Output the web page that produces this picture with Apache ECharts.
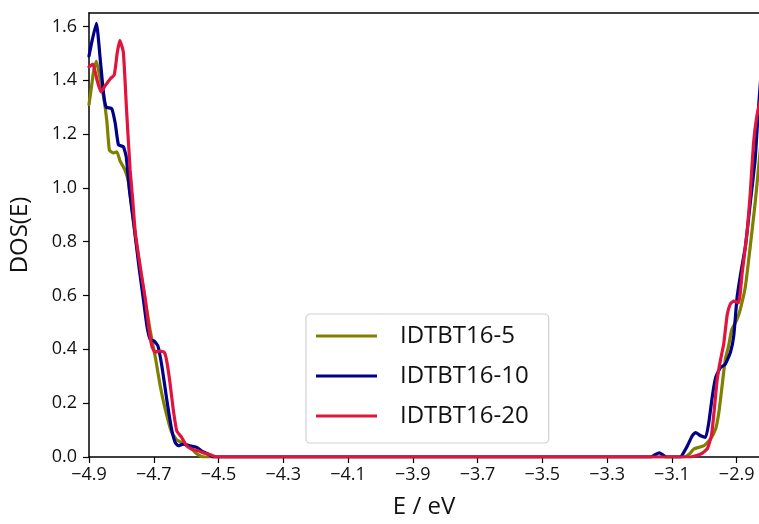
<!DOCTYPE html>
<html>
<head>
<meta charset="utf-8">
<script src="https://cdn.jsdelivr.net/npm/echarts@6/dist/echarts.min.js"></script>
<style>
html,body{margin:0;padding:0;background:#fff;}
#chart{width:759px;height:524px;}
</style>
</head>
<body>
<div id="chart"></div>
<script>
// ---- data ----
const seriesNames = ['IDTBT16-5', 'IDTBT16-10', 'IDTBT16-20'];
const xTicks = [-4.9, -4.7, -4.5, -4.3, -4.1, -3.9, -3.7, -3.5, -3.3, -3.1, -2.9];
const yTicks = [0.0, 0.2, 0.4, 0.6, 0.8, 1.0, 1.2, 1.4, 1.6];

const energy5 = [-4.900,-4.893,-4.885,-4.877,-4.868,-4.855,-4.845,-4.837,-4.824,-4.814,-4.804,-4.789,-4.778,-4.765,-4.757,-4.742,-4.726,-4.711,-4.700,-4.694,-4.680,-4.665,-4.645,-4.630,-4.614,-4.594,-4.573,-4.555,-4.540,-3.062,-3.045,-3.032,-3.001,-2.981,-2.965,-2.955,-2.945,-2.935,-2.925,-2.915,-2.899,-2.889,-2.873,-2.858,-2.843,-2.833,-2.823];
const dos5 =    [1.31,1.37,1.44,1.47,1.42,1.34,1.25,1.14,1.13,1.134,1.10,1.067,1.02,0.90,0.82,0.70,0.58,0.47,0.40,0.363,0.264,0.18,0.092,0.065,0.054,0.042,0.018,0.003,0,0,0.012,0.03,0.042,0.067,0.104,0.165,0.264,0.363,0.412,0.474,0.511,0.548,0.634,0.783,0.943,1.067,1.19];

const energy10 = [-4.900,-4.890,-4.877,-4.865,-4.855,-4.847,-4.830,-4.819,-4.809,-4.794,-4.785,-4.775,-4.760,-4.745,-4.732,-4.721,-4.711,-4.698,-4.687,-4.675,-4.660,-4.645,-4.634,-4.624,-4.609,-4.589,-4.568,-4.553,-4.532,-4.515,-3.164,-3.150,-3.139,-3.128,-3.118,-3.073,-3.062,-3.052,-3.037,-3.027,-3.011,-2.996,-2.986,-2.975,-2.965,-2.950,-2.935,-2.919,-2.909,-2.899,-2.889,-2.873,-2.858,-2.843,-2.833,-2.823];
const dos10 =    [1.49,1.55,1.612,1.474,1.35,1.30,1.295,1.24,1.16,1.153,1.116,0.99,0.85,0.70,0.585,0.486,0.437,0.43,0.412,0.338,0.215,0.104,0.054,0.042,0.048,0.042,0.036,0.023,0.011,0,0,0.01,0.015,0.008,0,0,0.02,0.042,0.079,0.091,0.079,0.073,0.128,0.227,0.295,0.332,0.345,0.39,0.45,0.59,0.671,0.783,0.943,1.104,1.29,1.45];

const energy20 = [-4.900,-4.888,-4.875,-4.863,-4.850,-4.834,-4.822,-4.813,-4.805,-4.794,-4.784,-4.773,-4.765,-4.757,-4.742,-4.726,-4.716,-4.706,-4.696,-4.680,-4.667,-4.660,-4.650,-4.640,-4.629,-4.614,-4.599,-4.583,-4.563,-4.543,-4.522,-4.505,-3.042,-3.011,-2.991,-2.978,-2.970,-2.960,-2.950,-2.940,-2.929,-2.919,-2.909,-2.894,-2.883,-2.868,-2.858,-2.848,-2.838,-2.827,-2.817];
const dos20 =    [1.45,1.46,1.40,1.357,1.38,1.406,1.42,1.50,1.548,1.505,1.289,1.067,0.956,0.833,0.709,0.585,0.486,0.412,0.39,0.394,0.388,0.357,0.277,0.178,0.097,0.073,0.042,0.03,0.023,0.014,0.007,0,0,0.011,0.03,0.079,0.165,0.289,0.36,0.42,0.53,0.57,0.579,0.573,0.684,0.832,0.98,1.165,1.264,1.326,1.40];

const colors = ['#808000', '#00008b', '#e0143c'];
// ---- chart ----
function zip(a, b) { return a.map((v, i) => [v, b[i]]); }
const seriesData = [zip(energy5, dos5), zip(energy10, dos10), zip(energy20, dos20)];
const fmt = v => v.toFixed(1).replace('-', '\u2212');
const FONT = 'Open Sans';

const chart = echarts.init(document.getElementById('chart'), null, {renderer: 'canvas'});
chart.setOption({
  animation: false,
  backgroundColor: '#ffffff',
  grid: {left: 83, top: 13, right: 0, bottom: 66, containLabel: false},
  xAxis: [{
    type: 'value', min: -4.9, max: -2.831,
    name: 'E / eV', nameLocation: 'middle', nameGap: 38,
    nameTextStyle: {fontFamily: FONT, fontSize: 24, color: '#111'},
    axisLine: {show: true, lineStyle: {color: '#000', width: 1.5}},
    axisTick: {show: true, length: 6, lineStyle: {color: '#000', width: 1.2}, customValues: xTicks},
    axisLabel: {fontFamily: FONT, fontSize: 18, color: '#111', margin: 9, customValues: xTicks, formatter: fmt},
    splitLine: {show: false}
  }, {
    type: 'value', position: 'top', min: -4.9, max: -2.831,
    axisLine: {show: true, onZero: false, lineStyle: {color: '#000', width: 1.5}},
    axisTick: {show: false}, axisLabel: {show: false}, splitLine: {show: false}
  }],
  yAxis: {
    type: 'value', min: 0, max: 1.65,
    name: 'DOS(E)', nameLocation: 'middle', nameGap: 57, nameRotate: 90,
    nameTextStyle: {fontFamily: FONT, fontSize: 24, color: '#111'},
    axisLine: {show: true, lineStyle: {color: '#000', width: 1.5}},
    axisTick: {show: true, length: 6, lineStyle: {color: '#000', width: 1.2}, customValues: yTicks},
    axisLabel: {fontFamily: FONT, fontSize: 18, color: '#111', margin: 12, customValues: yTicks, formatter: fmt},
    splitLine: {show: false}
  },
  legend: {
    orient: 'vertical', left: 306, top: 314,
    data: seriesNames.map(n => ({name: n, icon: 'rect'})),
    itemWidth: 61, itemHeight: 3, itemGap: 10,
    padding: [7, 20, 12, 10],
    backgroundColor: '#fff', borderColor: '#d0d0d0', borderWidth: 1.2, borderRadius: 4,
    textStyle: {fontFamily: FONT, fontSize: 24, color: '#111', lineHeight: 30, padding: [0, 0, 0, 18]}
  },
  series: seriesNames.map((n, i) => ({
    name: n, type: 'line', data: seriesData[i], symbol: 'none', showSymbol: false,
    smooth: 0.15, clip: true, z: 2 + i,
    lineStyle: {color: colors[i], width: 3.2, join: 'round', cap: 'round'},
    itemStyle: {color: colors[i]}
  }))
});
</script>
</body>
</html>
